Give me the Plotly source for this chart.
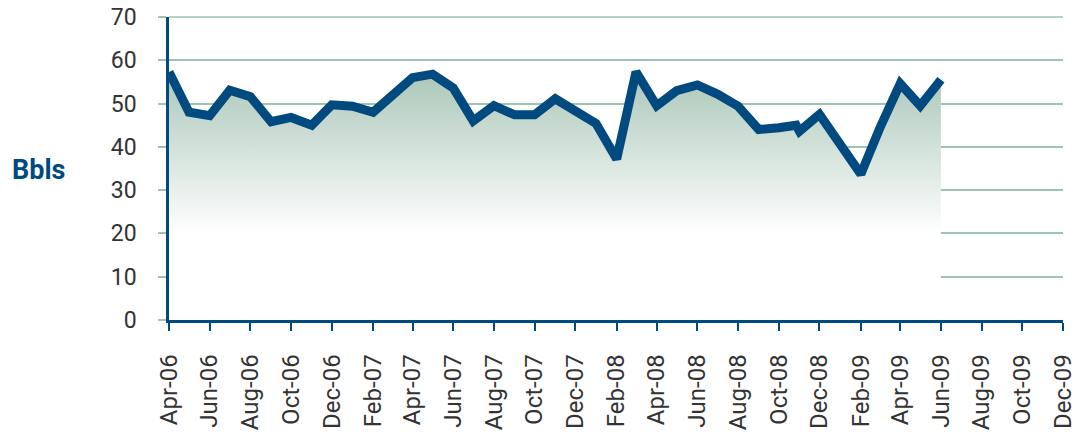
import plotly.graph_objects as go

dates = ["2006-04-01", "2006-05-01", "2006-06-01", "2006-07-01", "2006-08-01", "2006-09-01",
         "2006-10-01", "2006-11-01", "2006-12-01", "2007-01-01", "2007-02-01", "2007-03-01",
         "2007-04-01", "2007-05-01", "2007-06-01", "2007-07-01", "2007-08-01", "2007-09-01",
         "2007-10-01", "2007-11-01", "2007-12-01", "2008-01-01", "2008-02-01", "2008-03-01",
         "2008-04-01", "2008-05-01", "2008-06-01", "2008-07-01", "2008-08-01", "2008-09-01",
         "2008-10-01", "2008-10-27", "2008-11-01", "2008-12-01", "2009-01-01", "2009-02-01",
         "2009-03-01", "2009-04-01", "2009-05-01", "2009-06-01"]
bbls = [57.3, 48.0, 47.2, 53.1, 51.6, 45.8, 46.8, 45.0, 49.7, 49.4, 48.0, 51.5,
        56.0, 56.8, 53.6, 46.0, 49.5, 47.4, 47.4, 51.1, 48.0, 45.4, 37.2, 57.3,
        49.5, 53.0, 54.3, 52.2, 49.4, 44.0, 44.4, 45.0, 43.6, 47.5, 40.6, 33.7,
        44.2, 54.6, 49.5, 55.5]

y_label = "Bbls"
x_range = ["2006-04-01", "2009-12-01"]
y_range = [0, 70]

BLUE = "#004a80"
GRID = "#9dc3b2"
TXT = "#333333"
FONT = "Roboto"

fig = go.Figure()
fig.add_trace(go.Scatter(
    x=dates, y=bbls, mode="lines",
    line=dict(color=BLUE, width=9, shape="linear"),
    fill="tozeroy",
    fillgradient=dict(type="vertical",
                      colorscale=[[0, "rgba(255,255,255,1)"], [1, "#a9c6b8"]],
                      start=20, stop=58),
    hoverinfo="skip", showlegend=False,
))

fig.update_layout(
    width=1080, height=441,
    margin=dict(l=169, r=17, t=17, b=121, autoexpand=False),
    plot_bgcolor="white", paper_bgcolor="white",
    font=dict(family=FONT, color=TXT, size=23),
    xaxis=dict(
        type="date", range=x_range, tick0="2006-04-01", dtick="M2",
        tickformat="%b-%y", tickangle=-90, automargin=False,
        ticklabeloverflow="allow",
        showgrid=False, showline=True, linecolor=BLUE, linewidth=2.5,
        ticks="outside", ticklen=8, tickwidth=2, tickcolor=BLUE,
        ticklabelstandoff=14,
        tickfont=dict(family=FONT, size=24, color=TXT),
        zeroline=False,
    ),
    yaxis=dict(
        range=y_range, dtick=10, tick0=0, automargin=False,
        ticklabeloverflow="allow",
        showgrid=True, gridcolor=GRID, gridwidth=1.5,
        showline=True, linecolor=BLUE, linewidth=2.5,
        ticks="outside", ticklen=8, tickwidth=1.5, tickcolor=GRID,
        ticklabelstandoff=17,
        tickfont=dict(family=FONT, size=23, color=TXT),
        zeroline=False,
    ),
)

# top gridline (plotly drops the gridline sitting on the range edge)
fig.add_shape(type="line", xref="paper", yref="paper", x0=0, x1=1,
              y0=1, y1=1, layer="below",
              line=dict(color=GRID, width=1.5))

fig.add_annotation(
    text="<b>" + y_label + "</b>", xref="paper", yref="paper",
    x=(38 - 169) / 894, y=(320 - 170) / 303,
    xanchor="center", yanchor="middle", showarrow=False,
    font=dict(family=FONT, size=27, color=BLUE),
)

fig.write_html("out.html", config={"displayModeBar": False},
               post_script="document.body.style.margin='0px';")
